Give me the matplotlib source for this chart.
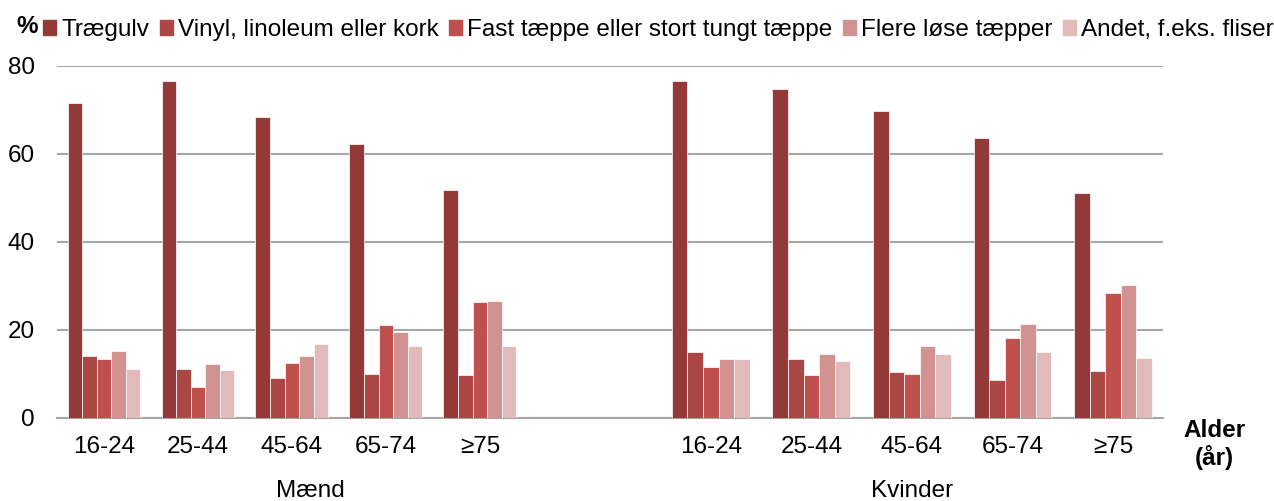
import numpy as np
import matplotlib.pyplot as plt
from matplotlib.patches import Patch

plt.rcParams['font.family'] = ['Liberation Sans', 'DejaVu Sans']

ages = ["16-24", "25-44", "45-64", "65-74", "≥75"]
series = ["Trægulv", "Vinyl, linoleum eller kork", "Fast tæppe eller stort tungt tæppe",
          "Flere løse tæpper", "Andet, f.eks. fliser"]
colors = ["#933a39", "#aa4744", "#c0504d", "#d29291", "#e1bbbb"]

# rows = series, cols = age groups
maend = [
    [71.5, 76.5, 68.5, 62.2, 51.9],
    [14.0, 11.1, 9.2, 10.0, 9.8],
    [13.3, 7.0, 12.4, 21.1, 26.4],
    [15.3, 12.2, 14.1, 19.5, 26.7],
    [11.1, 10.8, 16.9, 16.3, 16.3],
]
kvinder = [
    [76.7, 74.8, 69.8, 63.7, 51.1],
    [15.1, 13.3, 10.5, 8.7, 10.6],
    [11.6, 9.8, 10.1, 18.1, 28.5],
    [13.3, 14.5, 16.3, 21.4, 30.2],
    [13.3, 13.0, 14.5, 14.9, 13.7],
]

fs = 17.5
fig = plt.figure(figsize=(12.74, 5.01), dpi=100)
ax = fig.add_axes([0.0447, 0.1657, 0.8683, 0.7026])

# group centres (men spaced 1, women slightly wider)
x_m = np.arange(5)
x_k = 6.457 + np.arange(5) * 1.07
w_m = 0.155
w_k = 0.155 * 1.07

for i in range(5):
    ax.bar(x_m + (i - 2) * w_m, maend[i], w_m, color=colors[i], edgecolor="white",
           linewidth=0.5, zorder=3)
    ax.bar(x_k + (i - 2) * w_k, kvinder[i], w_k, color=colors[i], edgecolor="white",
           linewidth=0.5, zorder=3)

ax.set_xlim(-0.5, 11.27)
ax.set_ylim(0, 80)
ax.set_yticks([0, 20, 40, 60, 80])
ax.yaxis.grid(True, color="#a6a6a6", linewidth=1.5, zorder=0)
ax.set_axisbelow(True)
for s in ["top", "right", "left"]:
    ax.spines[s].set_visible(False)
ax.spines["bottom"].set_color("#a6a6a6")
ax.spines["bottom"].set_linewidth(1.5)
ax.tick_params(axis="y", length=0, labelsize=fs, pad=16)
ax.tick_params(axis="x", length=0, labelsize=fs, pad=13)
ax.set_xticks(np.concatenate([x_m, x_k]))
ax.set_xticklabels(ages + ages)

ax.text(2.2, -16.5, "Mænd", ha="center", va="center", fontsize=fs)
ax.text(8.6, -16.5, "Kvinder", ha="center", va="center", fontsize=fs)
fig.text(0.953, 0.113, "Alder\n(år)", ha="center", va="center", fontsize=fs,
         fontweight="bold", linespacing=1.15)
fig.text(0.013, 0.948, "%", ha="left", va="center", fontsize=fs, fontweight="bold")

handles = [Patch(color=c) for c in colors]
fig.legend(handles, series, loc="center left", bbox_to_anchor=(0.034, 0.94), ncol=5,
           frameon=False, fontsize=fs, handlelength=0.53, handleheight=0.55,
           handletextpad=0.2, columnspacing=0.45, borderaxespad=0, borderpad=0)

fig.savefig("out.png", dpi=100)
